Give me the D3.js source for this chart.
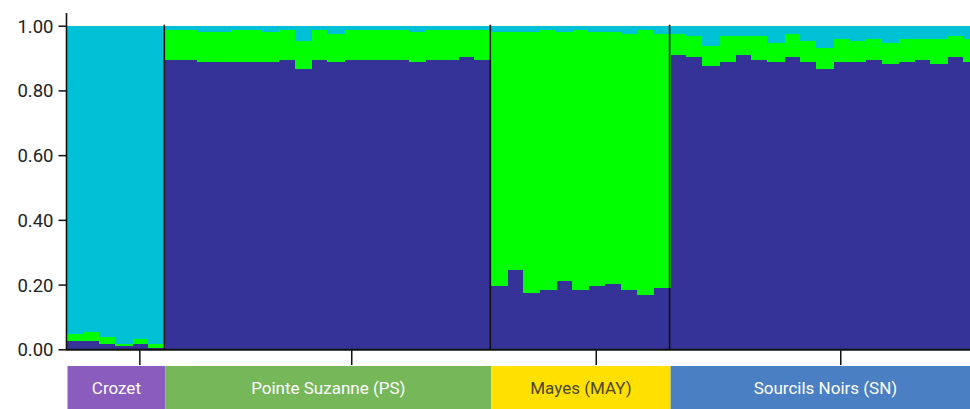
<!DOCTYPE html>
<html>
<head>
    <meta charset="utf-8">
    <script src="https://d3js.org/d3.v7.min.js"></script>
    <style>
        body { margin: 0; overflow: hidden; background: #fff; }
        .ylab text { font-family: Roboto, sans-serif; font-size: 18.5px; fill: #222; }
        .poplab { font-family: Roboto, sans-serif; font-size: 17px; }
        .bars rect { shape-rendering: crispEdges; }
    </style>
</head>
<body>
    <svg id="chart" width="990" height="409"></svg>
    <script>
        // populations, in plot order, and how many individuals each has
        let populations = ['Crozet', 'Pointe Suzanne (PS)', 'Mayes (MAY)', 'Sourcils Noirs (SN)'];
        let popSizes = [6, 20, 11, 19];

        // ancestry proportions per individual (stacked bottom to top)
        let clusterBlue = [
            0.026, 0.026, 0.017, 0.011, 0.017, 0.005,
            0.894, 0.894, 0.888, 0.888, 0.888, 0.888, 0.888, 0.894, 0.866, 0.894,
            0.888, 0.894, 0.894, 0.894, 0.894, 0.888, 0.894, 0.894, 0.903, 0.894,
            0.197, 0.245, 0.174, 0.183, 0.211, 0.183, 0.197, 0.202, 0.183, 0.168, 0.189,
            0.909, 0.903, 0.875, 0.888, 0.909, 0.894, 0.888, 0.903, 0.888, 0.866,
            0.888, 0.888, 0.894, 0.882, 0.888, 0.894, 0.882, 0.903, 0.888
        ];
        let clusterGreen = [
            0.022, 0.028, 0.021, 0.006, 0.015, 0.012,
            0.094, 0.094, 0.093, 0.093, 0.100, 0.100, 0.093, 0.094, 0.088, 0.094,
            0.087, 0.094, 0.094, 0.094, 0.094, 0.093, 0.094, 0.094, 0.085, 0.094,
            0.784, 0.736, 0.807, 0.805, 0.770, 0.805, 0.784, 0.779, 0.792, 0.820, 0.786,
            0.066, 0.066, 0.063, 0.081, 0.060, 0.075, 0.059, 0.072, 0.066, 0.066,
            0.072, 0.066, 0.066, 0.065, 0.072, 0.066, 0.078, 0.066, 0.072
        ];
        let clusterCyan = [
            0.952, 0.946, 0.962, 0.983, 0.968, 0.983,
            0.012, 0.012, 0.019, 0.019, 0.012, 0.012, 0.019, 0.012, 0.046, 0.012,
            0.025, 0.012, 0.012, 0.012, 0.012, 0.019, 0.012, 0.012, 0.012, 0.012,
            0.019, 0.019, 0.019, 0.012, 0.019, 0.012, 0.019, 0.019, 0.025, 0.012, 0.025,
            0.025, 0.031, 0.062, 0.031, 0.031, 0.031, 0.053, 0.025, 0.046, 0.068,
            0.040, 0.046, 0.040, 0.053, 0.040, 0.040, 0.040, 0.031, 0.040
        ];
        let yTicks = [0, 0.2, 0.4, 0.6, 0.8, 1.0];

        let clusterColors = ['#353397', '#00ff00', '#00c1d5'];
        let popColors = ['#895cbe', '#76b759', '#ffe000', '#4a7fc3'];
        let popTextColors = ['#ffffff', '#ffffff', '#4a4720', '#ffffff'];

        let bw = 16.3, left = 66.5;
        let n = clusterBlue.length;
        let svg = d3.select('#chart');

        let x = d3.scaleBand()
            .domain(d3.range(n))
            .range([left, left + n * bw])
            .padding(0);
        let y = d3.scaleLinear()
            .domain([0, 1])
            .range([349.3, 25.7]);

        let rows = d3.range(n).map(function(i) {
            return { i: i, blue: clusterBlue[i], green: clusterGreen[i], cyan: clusterCyan[i] };
        });
        let stack = d3.stack().keys(['blue', 'green', 'cyan'])(rows);

        svg.append('g')
            .attr('class', 'bars')
            .selectAll('g')
            .data(stack)
            .enter()
            .append('g')
            .attr('fill', function(d, k) { return clusterColors[k] })
            .selectAll('rect')
            .data(function(d) { return d })
            .enter()
            .append('rect')
            .attr('x', function(d) { return x(d.data.i) })
            .attr('width', x.bandwidth() + 1)
            .attr('y', function(d) { return y(d[1]) })
            .attr('height', function(d) { return y(d[0]) - y(d[1]) });

        // group starts
        let starts = [];
        let acc = 0;
        for (let g = 0; g < popSizes.length; g++) {
            starts.push(acc);
            acc += popSizes[g];
        }

        // separators between populations
        svg.append('g')
            .selectAll('line')
            .data(starts.slice(1))
            .enter()
            .append('line')
            .attr('x1', function(d) { return x(d) })
            .attr('x2', function(d) { return x(d) })
            .attr('y1', y(1) - 1)
            .attr('y2', y(0))
            .attr('stroke', '#111')
            .attr('stroke-width', 1.6);

        // y axis
        let yAxis = svg.append('g')
            .attr('class', 'ylab')
            .attr('transform', 'translate(' + left + ',0)')
            .call(d3.axisLeft(y).tickValues(yTicks).tickFormat(d3.format('.2f')).tickSize(8).tickPadding(5));
        yAxis.select('.domain').remove();
        yAxis.selectAll('line').attr('stroke', '#111').attr('stroke-width', 1.5);
        yAxis.selectAll('text').attr('dy', '0.35em');

        svg.append('line')
            .attr('x1', left).attr('x2', left)
            .attr('y1', 13).attr('y2', y(0) + 1)
            .attr('stroke', '#111').attr('stroke-width', 1.6);
        svg.append('line')
            .attr('x1', left).attr('x2', 990)
            .attr('y1', y(0) + 0.5).attr('y2', y(0) + 0.5)
            .attr('stroke', '#111').attr('stroke-width', 2);

        // population ticks
        svg.append('g')
            .selectAll('line')
            .data(starts)
            .enter()
            .append('line')
            .attr('x1', function(d, g) { return x(d + Math.floor(popSizes[g] / 2) + 1) + bw / 2 })
            .attr('x2', function(d, g) { return x(d + Math.floor(popSizes[g] / 2) + 1) + bw / 2 })
            .attr('y1', y(0) + 1)
            .attr('y2', 365)
            .attr('stroke', '#111')
            .attr('stroke-width', 1.5);

        // population label band
        let band = svg.append('g')
            .selectAll('g')
            .data(starts)
            .enter()
            .append('g');
        band.append('rect')
            .attr('x', function(d) { return x(d) + 1 })
            .attr('width', function(d, g) { return popSizes[g] * bw })
            .attr('y', 366)
            .attr('height', 50)
            .attr('fill', function(d, g) { return popColors[g] });
        band.append('text')
            .attr('class', 'poplab')
            .attr('x', function(d, g) { return x(d) + 1 + popSizes[g] * bw / 2 })
            .attr('y', 388)
            .attr('dy', '0.35em')
            .attr('text-anchor', 'middle')
            .attr('fill', function(d, g) { return popTextColors[g] })
            .text(function(d, g) { return populations[g] });
    </script>
</body>
</html>
